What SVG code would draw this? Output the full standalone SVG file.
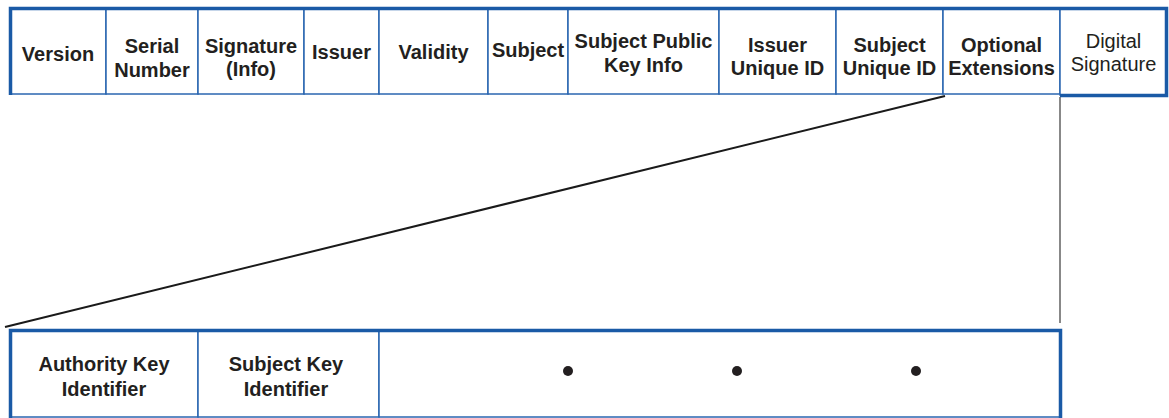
<svg xmlns="http://www.w3.org/2000/svg" width="1169" height="418" viewBox="0 0 1169 418">
<style>
.cell{fill:#fff;stroke:#2a66b0;stroke-width:1.5}
.thick{stroke:#1a5aa6;stroke-width:3.5;fill:none}
.b{font-family:"Liberation Sans",Arial,sans-serif;font-weight:bold;font-size:20px;fill:#231f20;text-anchor:middle}
.r{font-family:"Liberation Sans",Arial,sans-serif;font-size:20px;fill:#231f20;text-anchor:middle}
.dot{fill:#231f20}
</style>
<rect width="1169" height="418" fill="#fff"/>
<g id="connectors">
<line x1="945" y1="96" x2="5" y2="327" stroke="#1a1a1a" stroke-width="2"/>
<line x1="1060" y1="97" x2="1060" y2="323" stroke="#888" stroke-width="2"/>
</g>
<g id="certificate">
<g id="version"><rect class="cell" x="10" y="8" width="96" height="86"/><text class="b" x="58" y="61">Version</text></g>
<g id="serial"><rect class="cell" x="106" y="8" width="92" height="86"/><text class="b" x="152" y="53">Serial</text><text class="b" x="152" y="77">Number</text></g>
<g id="signature-info"><rect class="cell" x="198" y="8" width="106" height="86"/><text class="b" x="251" y="53">Signature</text><text class="b" x="251" y="76">(Info)</text></g>
<g id="issuer"><rect class="cell" x="304" y="8" width="75" height="86"/><text class="b" x="341.5" y="59">Issuer</text></g>
<g id="validity"><rect class="cell" x="379" y="8" width="109" height="86"/><text class="b" x="433.5" y="59">Validity</text></g>
<g id="subject"><rect class="cell" x="488" y="8" width="80" height="86"/><text class="b" x="528" y="57">Subject</text></g>
<g id="spki"><rect class="cell" x="568" y="8" width="151" height="86"/><text class="b" x="643.5" y="48">Subject Public</text><text class="b" x="643.5" y="72">Key Info</text></g>
<g id="issuer-uid"><rect class="cell" x="719" y="8" width="117" height="86"/><text class="b" x="777.5" y="52">Issuer</text><text class="b" x="777.5" y="75">Unique ID</text></g>
<g id="subject-uid"><rect class="cell" x="836" y="8" width="107" height="86"/><text class="b" x="889.5" y="52">Subject</text><text class="b" x="889.5" y="75">Unique ID</text></g>
<g id="extensions"><rect class="cell" x="943" y="8" width="117" height="86"/><text class="b" x="1001.5" y="52">Optional</text><text class="b" x="1001.5" y="75">Extensions</text></g>
<g id="digital-signature"><rect class="cell" x="1060" y="8" width="107" height="87" stroke="#8aa6cc"/><text class="r" x="1113.5" y="48">Digital</text><text class="r" x="1113.5" y="71">Signature</text></g>
<path class="thick" d="M10.5 95V8.5H1166.5V95.5H1060"/>
</g>
<g id="extensions-detail">
<g id="aki"><rect class="cell" x="10" y="330" width="188" height="87"/><text class="b" x="104" y="371">Authority Key</text><text class="b" x="104" y="396">Identifier</text></g>
<g id="ski"><rect class="cell" x="198" y="330" width="181" height="87"/><text class="b" x="286" y="371">Subject Key</text><text class="b" x="286" y="396">Identifier</text></g>
<g id="more"><rect class="cell" x="379" y="330" width="681" height="87"/><circle class="dot" cx="568" cy="371" r="5"/><circle class="dot" cx="737" cy="371" r="5"/><circle class="dot" cx="916" cy="371" r="5"/></g>
<path class="thick" d="M10.5 418V330.5H1060.5V418"/>
</g>
</svg>
